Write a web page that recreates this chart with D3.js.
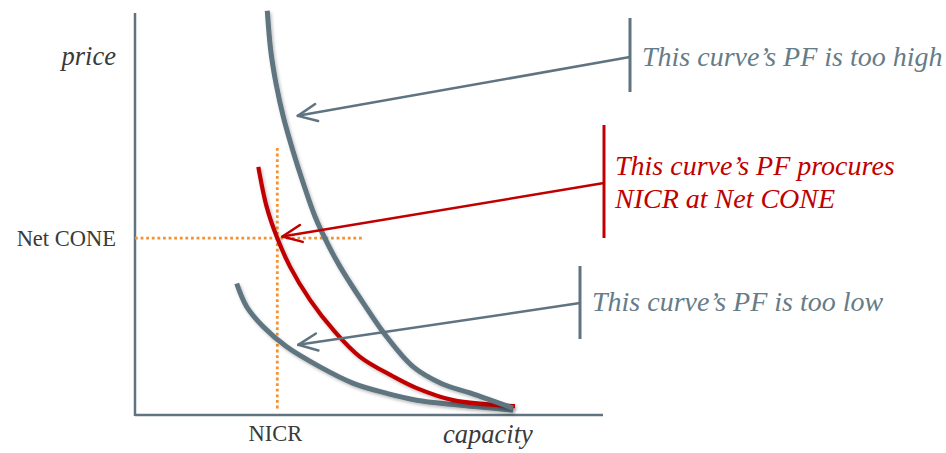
<!DOCTYPE html>
<html><head><meta charset="utf-8">
<script src="https://cdn.jsdelivr.net/npm/d3@7"></script>
<style>html,body{margin:0;padding:0;background:#fff;}svg{display:block;}</style>
</head><body>
<svg id="chart" width="946" height="453"></svg>
<script>
// ---- data (capacity 0..100, price 0..100) ----
const highCurve = [[28.45,100.8],[29.18,91.0],[30.32,82.7],[31.89,74.4],[33.91,66.1],[36.19,57.8],[38.71,49.5],[41.6,42.3],[44.09,37.0],[49.10,27.9],[54.13,19.5],[59.85,12.0],[66.0,7.8],[72.04,5.5],[81.29,1.7]];
const targetCurve = [[26.52,61.9],[28.32,51.9],[30.47,44.5],[33.33,37.0],[37.63,28.7],[42.65,21.2],[48.39,14.5],[55.55,9.6],[60.58,6.7],[68.39,3.7],[81.72,2.2]];
const lowCurve = [[21.87,32.8],[24.02,27.0],[27.59,22.0],[32.62,17.0],[39.78,12.0],[46.95,7.9],[54.13,5.4],[60.58,3.7],[68.39,2.6],[81.29,1.2]];
const nicr = 30.6;
const netCone = 44.1;
const axisLabels = ["price", "capacity"];
const refLabels = ["NICR", "Net CONE"];
const annotationText = [
  ["This curve\u2019s PF is too high"],
  ["This curve\u2019s PF procures", "NICR at Net CONE"],
  ["This curve\u2019s PF is too low"]
];
const arrowTips = [[35.0,74.6],[31.7,44.5],[35.1,17.5]];

const GRAY = "#5f7480", RED = "#c00000", ORANGE = "#f5912f", TXT = "#3a3a3a";
const SERIF = "'Liberation Serif','Times New Roman',serif";

const svg = d3.select("#chart");
const x = d3.scaleLinear().domain([0,100]).range([135,600]);
const y = d3.scaleLinear().domain([0,100]).range([415,14]);

function itext(px, py, str, size, fill, anchor){
  return svg.append("text").attr("x",px).attr("y",py)
    .attr("text-anchor", anchor || "start")
    .style("font-family", SERIF).style("font-style","italic")
    .attr("font-size", size).attr("fill", fill)
    .text(str);
}

// shadow
const defs = svg.append("defs");
const f = defs.append("filter").attr("id","sh").attr("x","-20%").attr("y","-20%").attr("width","140%").attr("height","140%");
f.append("feDropShadow").attr("dx",1.5).attr("dy",2).attr("stdDeviation",1.5).attr("flood-color","#000").attr("flood-opacity",0.25);

// axes
svg.append("line").attr("x1",x(0)).attr("x2",x(0)).attr("y1",13).attr("y2",y(0)+1)
  .attr("stroke",GRAY).attr("stroke-width",2.5);
svg.append("line").attr("x1",x(0)).attr("x2",603).attr("y1",y(0)).attr("y2",y(0))
  .attr("stroke",GRAY).attr("stroke-width",2.5);

// reference lines
svg.append("line").attr("x1",x(nicr)).attr("x2",x(nicr)).attr("y1",148).attr("y2",411)
  .attr("stroke",ORANGE).attr("stroke-width",2.8).attr("stroke-dasharray","2.8,2.8");
svg.append("line").attr("x1",x(0)).attr("x2",362).attr("y1",y(netCone)).attr("y2",y(netCone))
  .attr("stroke",ORANGE).attr("stroke-width",2.8).attr("stroke-dasharray","2.8,2.8");

// curves
const line = d3.line().x(d=>x(d[0])).y(d=>y(d[1])).curve(d3.curveCatmullRom.alpha(0.5));
svg.append("path").datum(lowCurve).attr("d",line).attr("fill","none").attr("stroke",GRAY).attr("stroke-width",5).attr("filter","url(#sh)");
svg.append("path").datum(targetCurve).attr("d",line).attr("fill","none").attr("stroke",RED).attr("stroke-width",4.2).attr("filter","url(#sh)");
svg.append("path").datum(highCurve).attr("d",line).attr("fill","none").attr("stroke",GRAY).attr("stroke-width",5).attr("filter","url(#sh)");

// annotations
const ann = [
  {color:GRAY, bx:630, by0:18, by1:92, jy:57, tx:642, ty:[66]},
  {color:RED, bx:604, by0:125, by1:238, jy:183, tx:615, ty:[175,208]},
  {color:GRAY, bx:580, by0:266, by1:339, jy:303, tx:592, ty:[311]}
];
ann.forEach((a,i)=>{
  const tip = [x(arrowTips[i][0]), y(arrowTips[i][1])];
  svg.append("line").attr("x1",tip[0]).attr("y1",tip[1]).attr("x2",a.bx).attr("y2",a.jy)
    .attr("stroke",a.color).attr("stroke-width",2.5);
  const ang = Math.atan2(a.jy-tip[1], a.bx-tip[0]);
  const L = 21, h = 0.42;
  [ang-h, ang+h].forEach(t=>{
    svg.append("line").attr("x1",tip[0]).attr("y1",tip[1])
      .attr("x2",tip[0]+L*Math.cos(t)).attr("y2",tip[1]+L*Math.sin(t))
      .attr("stroke",a.color).attr("stroke-width",2.5).attr("stroke-linecap","round");
  });
  svg.append("line").attr("x1",a.bx).attr("x2",a.bx).attr("y1",a.by0).attr("y2",a.by1)
    .attr("stroke",a.color).attr("stroke-width",3);
  annotationText[i].forEach((t,j)=>{
    itext(a.tx, a.ty[j], t, 28, a.color===RED ? RED : "#667c87");
  });
});

// axis labels
itext(116, 65, axisLabels[0], 26.5, TXT, "end");
itext(443, 443, axisLabels[1], 26.5, TXT);
svg.append("text").attr("x",x(nicr)-2).attr("y",441).attr("text-anchor","middle").text(refLabels[0])
  .style("font-family",SERIF).attr("font-size",22.5).attr("fill",TXT);
svg.append("text").attr("x",116).attr("y",246).attr("text-anchor","end").text(refLabels[1])
  .style("font-family",SERIF).attr("font-size",22.5).attr("fill",TXT);
</script>
</body></html>
